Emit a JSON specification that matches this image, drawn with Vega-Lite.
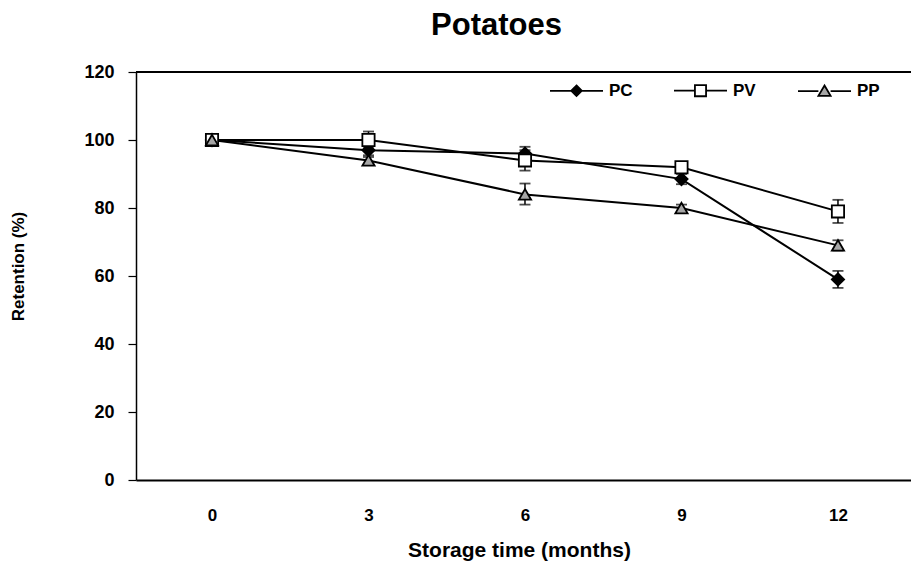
{
  "$schema": "https://vega.github.io/schema/vega-lite/v6.json",
  "width": 775,
  "height": 408,
  "autosize": {"type": "none"},
  "padding": {"left": 136, "top": 72, "right": 0, "bottom": 82},
  "background": "white",
  "config": {
    "view": {"stroke": null},
    "font": "Liberation Sans"
  },
  "title": {
    "text": "Potatoes",
    "font": "Liberation Sans",
    "fontSize": 31,
    "fontWeight": "bold",
    "color": "black",
    "anchor": "middle",
    "dx": -27,
    "offset": 21
  },
  "data": {
    "values": [
      {"t": 0, "s": "PC", "v": 100},
      {"t": 3, "s": "PC", "v": 97, "lo": 95.5, "hi": 98.5},
      {"t": 6, "s": "PC", "v": 96, "lo": 94, "hi": 98},
      {"t": 9, "s": "PC", "v": 88.5, "lo": 87, "hi": 90},
      {"t": 12, "s": "PC", "v": 59, "lo": 56.5, "hi": 61.5},
      {"t": 0, "s": "PV", "v": 100},
      {"t": 3, "s": "PV", "v": 100, "lo": 98, "hi": 102.5},
      {"t": 6, "s": "PV", "v": 94, "lo": 91, "hi": 97},
      {"t": 9, "s": "PV", "v": 92, "lo": 90.5, "hi": 93.5},
      {"t": 12, "s": "PV", "v": 79, "lo": 75.6, "hi": 82.4},
      {"t": 0, "s": "PP", "v": 100},
      {"t": 3, "s": "PP", "v": 94, "lo": 93, "hi": 95},
      {"t": 6, "s": "PP", "v": 84, "lo": 81, "hi": 87.2},
      {"t": 9, "s": "PP", "v": 80, "lo": 79, "hi": 81},
      {"t": 12, "s": "PP", "v": 69, "lo": 67.5, "hi": 70.5}
    ]
  },
  "resolve": {"scale": {"shape": "independent", "fill": "independent", "stroke": "independent"}},
  "layer": [
    {
      "mark": {"type": "rule", "color": "black", "strokeWidth": 1.2},
      "encoding": {"y": {"datum": 120, "type": "quantitative"}}
    },
    {
      "mark": {"type": "line", "color": "black", "strokeWidth": 2},
      "encoding": {
        "x": {
          "field": "t",
          "type": "quantitative",
          "scale": {"domain": [-1.457, 13.4], "nice": false, "zero": false},
          "axis": {
            "values": [0, 3, 6, 9, 12],
            "ticks": false,
            "grid": false,
            "domainColor": "black",
            "domainWidth": 2,
            "labelFont": "Liberation Sans",
            "labelFontSize": 17,
            "labelFontWeight": "bold",
            "labelColor": "black",
            "labelPadding": 27,
            "title": "Storage time (months)",
            "titleFont": "Liberation Sans",
            "titleFontSize": 21,
            "titleFontWeight": "bold",
            "titleColor": "black",
            "titleX": 383,
            "titleY": 70,
            "titleBaseline": "middle"
          }
        },
        "y": {
          "field": "v",
          "type": "quantitative",
          "scale": {"domain": [0, 120], "nice": false},
          "axis": {
            "values": [0, 20, 40, 60, 80, 100, 120],
            "grid": false,
            "tickSize": 8,
            "tickColor": "black",
            "tickWidth": 1.2,
            "domainColor": "black",
            "domainWidth": 1.5,
            "labelFont": "Liberation Sans",
            "labelFontSize": 18,
            "labelFontWeight": "bold",
            "labelColor": "black",
            "labelPadding": 14,
            "title": "Retention (%)",
            "titleFont": "Liberation Sans",
            "titleFontSize": 17,
            "titleFontWeight": "bold",
            "titleColor": "black",
            "titleX": -118,
            "titleY": 194,
            "titleAngle": -90,
            "titleAlign": "center",
            "titleBaseline": "middle"
          }
        },
        "detail": {"field": "s"}
      }
    },
    {
      "mark": {"type": "rule", "color": "black", "strokeWidth": 1.5},
      "encoding": {
        "x": {"field": "t", "type": "quantitative"},
        "y": {"field": "lo", "type": "quantitative"},
        "y2": {"field": "hi"}
      }
    },
    {
      "mark": {"type": "tick", "orient": "horizontal", "color": "black", "size": 11, "thickness": 1.8},
      "encoding": {
        "x": {"field": "t", "type": "quantitative"},
        "y": {"field": "lo", "type": "quantitative"}
      }
    },
    {
      "mark": {"type": "tick", "orient": "horizontal", "color": "black", "size": 11, "thickness": 1.8},
      "encoding": {
        "x": {"field": "t", "type": "quantitative"},
        "y": {"field": "hi", "type": "quantitative"}
      }
    },
    {
      "mark": {"type": "point", "filled": true, "stroke": "black", "strokeWidth": 1.8, "opacity": 1, "size": 150},
      "encoding": {
        "x": {"field": "t", "type": "quantitative"},
        "y": {"field": "v", "type": "quantitative"},
        "shape": {
          "field": "s",
          "type": "nominal",
          "scale": {"domain": ["PC", "PV", "PP"], "range": ["diamond", "square", "triangle-up"]},
          "legend": null
        },
        "fill": {
          "field": "s",
          "type": "nominal",
          "scale": {"domain": ["PC", "PV", "PP"], "range": ["#000000", "#ffffff", "#a6a6a6"]},
          "legend": null
        }
      }
    },
    {
      "transform": [{"filter": "datum.v > 1000"}],
      "mark": {"type": "point", "filled": true, "strokeWidth": 1.8, "opacity": 1},
      "encoding": {
        "x": {"field": "t", "type": "quantitative"},
        "y": {"field": "v", "type": "quantitative"},
        "shape": {
          "field": "s",
          "type": "nominal",
          "scale": {
            "domain": ["PC", "PV", "PP"],
            "range": [
              "M-1,0H1M0,-0.2L0.2,0L0,0.2L-0.2,0Z",
              "M-1,0H-0.21M0.21,0H1M-0.21,-0.21H0.21V0.21H-0.21Z",
              "M-1,0H-0.23M0.23,0H1M0,-0.21L0.23,0.18H-0.23Z"
            ]
          },
          "legend": {
            "title": null,
            "orient": "none",
            "direction": "horizontal",
            "legendX": 413,
            "legendY": -9,
            "padding": 0,
            "symbolSize": 2809,
            "symbolStrokeWidth": 1.8,
            "symbolOpacity": 1,
            "labelFont": "Liberation Sans",
            "labelFontSize": 17,
            "labelFontWeight": "bold",
            "labelColor": "black",
            "labelOffset": 5,
            "columnPadding": 37,
            "gridAlign": "all"
          }
        },
        "fill": {
          "field": "s",
          "type": "nominal",
          "scale": {"domain": ["PC", "PV", "PP"], "range": ["#000000", "#ffffff", "#a6a6a6"]},
          "legend": {
            "title": null,
            "orient": "none",
            "direction": "horizontal",
            "legendX": 413,
            "legendY": -9,
            "padding": 0,
            "symbolSize": 2809,
            "symbolStrokeWidth": 1.8,
            "symbolOpacity": 1,
            "labelFont": "Liberation Sans",
            "labelFontSize": 17,
            "labelFontWeight": "bold",
            "labelColor": "black",
            "labelOffset": 5,
            "columnPadding": 37,
            "gridAlign": "all"
          }
        },
        "stroke": {
          "field": "s",
          "type": "nominal",
          "scale": {"domain": ["PC", "PV", "PP"], "range": ["#000000", "#000000", "#000000"]},
          "legend": {
            "title": null,
            "orient": "none",
            "direction": "horizontal",
            "legendX": 413,
            "legendY": -9,
            "padding": 0,
            "symbolSize": 2809,
            "symbolStrokeWidth": 1.8,
            "symbolOpacity": 1,
            "labelFont": "Liberation Sans",
            "labelFontSize": 17,
            "labelFontWeight": "bold",
            "labelColor": "black",
            "labelOffset": 5,
            "columnPadding": 37,
            "gridAlign": "all"
          }
        }
      }
    }
  ]
}
